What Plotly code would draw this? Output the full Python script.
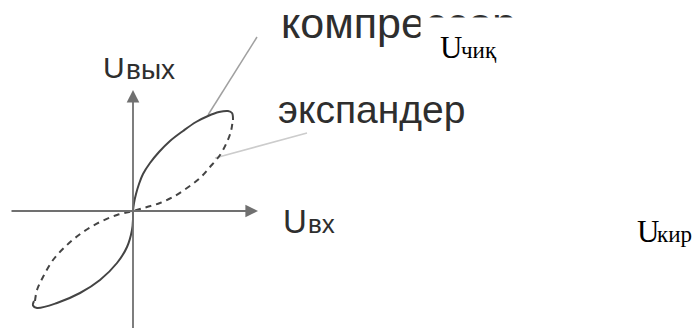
import plotly.graph_objects as go

# Transfer characteristics, Uвых versus Uвх (normalised units, origin at the axes crossing)
# Compressor (solid): from the lower-left hook, through the origin, to the upper-right hook
comp_x = [-0.99, -1.00, -0.96, -0.76, -0.53, -0.33, -0.16, -0.06, -0.01, 0.00, 0.00,
          0.01, 0.03, 0.06, 0.10, 0.17, 0.26, 0.37, 0.50, 0.63, 0.75, 0.86, 0.95,
          0.99, 1.00]
comp_y = [-0.90, -0.945, -0.97, -0.92, -0.82, -0.69, -0.52, -0.36, -0.19, -0.08, 0.00,
          0.08, 0.17, 0.27, 0.37, 0.48, 0.59, 0.70, 0.80, 0.89, 0.95, 0.99, 1.00,
          0.98, 0.91]

# Expander (dashed): from the lower-left end, through the origin, up to the compressor hook
exp_x = [-0.98, -0.96, -0.90, -0.80, -0.66, -0.50, -0.33, -0.16, 0.00,
         0.14, 0.27, 0.40, 0.54, 0.67, 0.77, 0.87, 0.94, 0.98, 0.995]
exp_y = [-0.90, -0.79, -0.66, -0.49, -0.34, -0.21, -0.11, -0.04, 0.00,
         0.04, 0.08, 0.14, 0.23, 0.33, 0.44, 0.56, 0.69, 0.80, 0.89]

# Callout lines from the curves to their captions
comp_lead_x = [0.75, 1.24]
comp_lead_y = [0.96, 1.74]
exp_lead_x = [0.82, 1.74]
exp_lead_y = [0.53, 0.78]

# Axis extents (tail -> arrow tip)
x_axis_ends = [-1.23, 1.25]
y_axis_ends = [-1.25, 1.21]

SANS = "Liberation Sans, Arial, sans-serif"
SERIF = "Liberation Serif, Times New Roman, serif"
INK = "#2e2e2e"

fig = go.Figure()

fig.add_trace(go.Scatter(x=comp_lead_x, y=comp_lead_y, mode="lines",
                         line=dict(color="#a0a0a0", width=1.5), hoverinfo="skip"))
fig.add_trace(go.Scatter(x=exp_lead_x, y=exp_lead_y, mode="lines",
                         line=dict(color="#cccccc", width=1.5), hoverinfo="skip"))
fig.add_trace(go.Scatter(x=exp_x, y=exp_y, mode="lines", line_shape="spline",
                         line=dict(color="#444444", width=2, dash="6px,5px"),
                         hoverinfo="skip"))
fig.add_trace(go.Scatter(x=comp_x, y=comp_y, mode="lines", line_shape="spline",
                         line=dict(color="#444444", width=2), hoverinfo="skip"))


def label(x, y, text, family, size, color, **kw):
    """Plain text label, left-anchored and vertically centred on its line box."""
    return dict(x=x, y=y, text=text, showarrow=False, xanchor="left",
                yanchor="middle", borderpad=0,
                font=dict(family=family, size=size, color=color), **kw)


annotations = [
    # axes with arrow heads
    dict(x=x_axis_ends[1], y=0, ax=x_axis_ends[0], ay=0, axref="x", ayref="y",
         text="", showarrow=True, arrowhead=2, arrowsize=1.4, arrowwidth=1.8,
         arrowcolor="#707070"),
    dict(x=0, y=y_axis_ends[1], ax=0, ay=y_axis_ends[0], axref="x", ayref="y",
         text="", showarrow=True, arrowhead=2, arrowsize=1.4, arrowwidth=1.8,
         arrowcolor="#707070"),
    # axis captions: capital U plus a smaller index on the same baseline
    label(-0.31, 1.434, "U", SANS, 30, INK),
    label(-0.08, 1.42, "вых", SANS, 28, INK),
    label(1.49, -0.106, "U", SANS, 33, INK),
    label(1.735, -0.13, "вх", SANS, 26, INK),
    # curve captions
    label(1.47, 1.879, "компрессор", SANS, 43, INK),
    label(1.44, 1.015, "экспандер", SANS, 39, INK),
    # white text box laid over the caption, holding the Uzbek output label
    dict(x=2.865, y=1.94, text=" ", showarrow=False, xanchor="left", yanchor="top",
         width=96, height=48, bgcolor="white", borderpad=0,
         font=dict(family=SERIF, size=12, color="white")),
    label(3.06, 1.635, "U", SERIF, 31, "black"),
    label(3.27, 1.608, "чиқ", SERIF, 23, "black"),
    # Uzbek input label
    label(5.03, -0.205, "U", SERIF, 31, "black"),
    label(5.23, -0.232, "кир", SERIF, 23, "black"),
]

fig.update_layout(
    width=699, height=328,
    margin=dict(l=0, r=0, t=0, b=0),
    paper_bgcolor="white", plot_bgcolor="white",
    showlegend=False,
    xaxis=dict(range=[-1.33, 5.66], visible=False, fixedrange=True),
    yaxis=dict(range=[-1.17, 2.11], visible=False, fixedrange=True),
    annotations=annotations,
)

fig.write_html("out.html", config={"displayModeBar": False})
